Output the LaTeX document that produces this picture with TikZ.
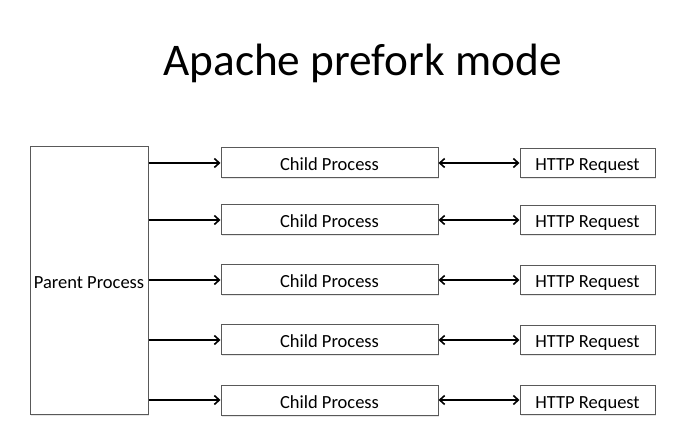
\documentclass[tikz,border=0pt]{standalone}
\usepackage{fontspec}
\setmainfont{Carlito}
\usetikzlibrary{arrows.meta,shadows}
\begin{document}
\begin{tikzpicture}[x=1pt,y=-1pt,
  box/.style={draw=black!65,line width=1pt,fill=white,inner sep=0pt,
    drop shadow={opacity=0.2,shadow xshift=1.2pt,shadow yshift=-1.5pt},
    font=\fontsize{18.5}{20}\selectfont,text height=17pt,text depth=1pt},
  childbox/.style={box,minimum width=217pt,minimum height=30pt},
  httpbox/.style={box,minimum width=135pt,minimum height=29pt},
  conn/.style={line width=2pt,-{Straight Barb[length=5pt,width=9pt,line width=1.6pt]}},
  dconn/.style={line width=2pt,{Straight Barb[length=5pt,width=9pt,line width=1.6pt]}-{Straight Barb[length=5pt,width=9pt,line width=1.6pt]}}]
\useasboundingbox (0,0) rectangle (691,446);
\node[font=\fontsize{45.3}{50}\selectfont] (title) at (362.5,63) {Apache prefork mode};
\node[box,minimum width=118pt,minimum height=267pt] (parent) at (89,280.5) {Parent Process};
\foreach \i/\y in {1/163,2/220,3/280,4/340,5/400}{
  \node[childbox] (c\i) at (329.5,\y) {Child Process};
  \node[httpbox] (h\i) at (587.5,\y) {HTTP Request};
  \draw[conn] (parent.east |- c\i.west) -- (c\i.west);
  \draw[dconn] (c\i.east) -- (h\i.west);
}
\end{tikzpicture}
\end{document}
